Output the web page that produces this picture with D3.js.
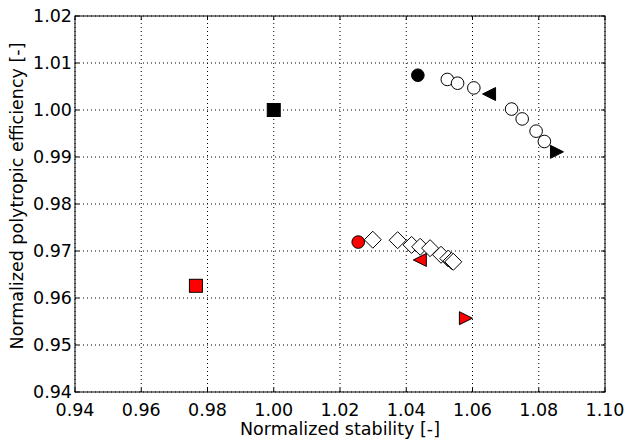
<!DOCTYPE html>
<html lang="en">
<head>
  <meta charset="UTF-8">
  <script src="https://d3js.org/d3.v7.min.js"></script>
  <title>Stability vs efficiency</title>
  <style>
    body { margin: 0; background: #fff; font-family: "DejaVu Sans", sans-serif; }
    svg text { font-family: "DejaVu Sans", sans-serif; }
  </style>
</head>
<body>
<script>
  // Axis ticks
  const xTicks = [0.94, 0.96, 0.98, 1.00, 1.02, 1.04, 1.06, 1.08, 1.10];
  const yTicks = [0.94, 0.95, 0.96, 0.97, 0.98, 0.99, 1.00, 1.01, 1.02];

  // Reference design (black) and its red counterpart
  const squareBlackX = [1.000];
  const squareBlackY = [1.000];
  const squareRedX = [0.9765];
  const squareRedY = [0.9626];

  const circleBlackX = [1.0435];
  const circleBlackY = [1.0074];
  const circleRedX = [1.0255];
  const circleRedY = [0.9719];

  // Open circles (black series sweep)
  const openCircleX = [1.0524, 1.0555, 1.0604, 1.0718, 1.0750, 1.0792, 1.0817];
  const openCircleY = [1.0065, 1.0057, 1.0047, 1.0002, 0.9981, 0.9955, 0.9933];

  // Open diamonds (red series sweep)
  const diamondX = [1.0299, 1.0374, 1.0416, 1.0442, 1.0472, 1.0505, 1.0527, 1.0537, 1.0542];
  const diamondY = [0.9724, 0.9723, 0.9713, 0.9709, 0.9706, 0.9692, 0.9684, 0.9679, 0.9677];

  // Triangles: left / right pointing
  const triLeftBlackX = [1.0650];
  const triLeftBlackY = [1.0034];
  const triRightBlackX = [1.0855];
  const triRightBlackY = [0.9911];
  const triLeftRedX = [1.0441];
  const triLeftRedY = [0.9681];
  const triRightRedX = [1.0580];
  const triRightRedY = [0.9557];

  const width = 627, height = 441;
  const margin = { top: 16, right: 22, bottom: 49, left: 75 };
  const fontSize = 17.5;

  const svg = d3.select("body").append("svg")
    .attr("width", width)
    .attr("height", height);

  const x = d3.scaleLinear().domain([0.94, 1.10]).range([margin.left, width - margin.right]);
  const y = d3.scaleLinear().domain([0.94, 1.02]).range([height - margin.bottom, margin.top]);

  const x0 = x.range()[0], x1 = x.range()[1];
  const y0 = y.range()[0], y1 = y.range()[1];

  // Grid lines (dotted)
  const grid = svg.append("g");
  grid.selectAll(".gx").data(xTicks).enter().append("line")
    .attr("x1", d => x(d)).attr("x2", d => x(d))
    .attr("y1", y0).attr("y2", y1)
    .attr("stroke", "#000").attr("stroke-width", 1).attr("stroke-dasharray", "1,3");
  grid.selectAll(".gy").data(yTicks).enter().append("line")
    .attr("y1", d => y(d)).attr("y2", d => y(d))
    .attr("x1", x0).attr("x2", x1)
    .attr("stroke", "#000").attr("stroke-width", 1).attr("stroke-dasharray", "1,3");

  // Inward ticks on all four sides
  const tickLen = 4;
  const ticks = svg.append("g").attr("stroke", "#000").attr("stroke-width", 1);
  xTicks.forEach(t => {
    ticks.append("line").attr("x1", x(t)).attr("x2", x(t)).attr("y1", y0).attr("y2", y0 - tickLen);
    ticks.append("line").attr("x1", x(t)).attr("x2", x(t)).attr("y1", y1).attr("y2", y1 + tickLen);
  });
  yTicks.forEach(t => {
    ticks.append("line").attr("y1", y(t)).attr("y2", y(t)).attr("x1", x0).attr("x2", x0 + tickLen);
    ticks.append("line").attr("y1", y(t)).attr("y2", y(t)).attr("x1", x1).attr("x2", x1 - tickLen);
  });

  // Frame
  svg.append("rect")
    .attr("x", x0).attr("y", y1)
    .attr("width", x1 - x0).attr("height", y0 - y1)
    .attr("fill", "none").attr("stroke", "#000").attr("stroke-width", 1);

  // Tick labels
  svg.append("g").selectAll("text").data(xTicks).enter().append("text")
    .attr("x", d => x(d)).attr("y", y0 + 24)
    .attr("text-anchor", "middle").attr("font-size", fontSize)
    .text(d => d.toFixed(2));
  svg.append("g").selectAll("text").data(yTicks).enter().append("text")
    .attr("x", x0 - 3).attr("y", d => y(d) + 6.4)
    .attr("text-anchor", "end").attr("font-size", fontSize)
    .text(d => d.toFixed(2));

  // Axis titles
  svg.append("text")
    .attr("x", (x0 + x1) / 2).attr("y", 435)
    .attr("text-anchor", "middle").attr("font-size", fontSize)
    .text("Normalized stability [-]");
  svg.append("text")
    .attr("transform", "translate(23,196) rotate(-90)")
    .attr("text-anchor", "middle").attr("font-size", fontSize)
    .text("Normalized polytropic efficiency [-]");

  const marks = svg.append("g");
  const zip = (xs, ys) => xs.map((v, i) => [v, ys[i]]);

  function squares(xs, ys, fill) {
    const s = 13;
    marks.append("g").selectAll("rect").data(zip(xs, ys)).enter().append("rect")
      .attr("x", d => x(d[0]) - s / 2).attr("y", d => y(d[1]) - s / 2)
      .attr("width", s).attr("height", s)
      .attr("fill", fill).attr("stroke", "#000").attr("stroke-width", 1);
  }
  function circles(xs, ys, fill) {
    marks.append("g").selectAll("circle").data(zip(xs, ys)).enter().append("circle")
      .attr("cx", d => x(d[0])).attr("cy", d => y(d[1])).attr("r", 6.3)
      .attr("fill", fill).attr("stroke", "#000").attr("stroke-width", 1);
  }
  function diamonds(xs, ys, fill) {
    const h = 8.5;
    marks.append("g").selectAll("path").data(zip(xs, ys)).enter().append("path")
      .attr("d", d => {
        const cx = x(d[0]), cy = y(d[1]);
        return `M${cx},${cy - h}L${cx + h},${cy}L${cx},${cy + h}L${cx - h},${cy}Z`;
      })
      .attr("fill", fill).attr("stroke", "#000").attr("stroke-width", 1);
  }
  function triangles(xs, ys, fill, dir) {
    const h = 6.5;
    marks.append("g").selectAll("path").data(zip(xs, ys)).enter().append("path")
      .attr("d", d => {
        const cx = x(d[0]), cy = y(d[1]);
        return `M${cx + dir * h},${cy}L${cx - dir * h},${cy - h}L${cx - dir * h},${cy + h}Z`;
      })
      .attr("fill", fill).attr("stroke", "#000").attr("stroke-width", 1);
  }

  squares(squareBlackX, squareBlackY, "#000");
  squares(squareRedX, squareRedY, "#ff0000");
  circles(circleBlackX, circleBlackY, "#000");
  circles(circleRedX, circleRedY, "#ff0000");
  circles(openCircleX, openCircleY, "#fff");
  diamonds(diamondX, diamondY, "#fff");
  triangles(triLeftBlackX, triLeftBlackY, "#000", -1);
  triangles(triRightBlackX, triRightBlackY, "#000", 1);
  triangles(triLeftRedX, triLeftRedY, "#ff0000", -1);
  triangles(triRightRedX, triRightRedY, "#ff0000", 1);
</script>
</body>
</html>
